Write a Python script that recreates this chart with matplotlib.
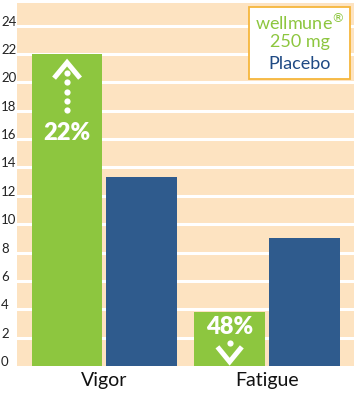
import matplotlib
matplotlib.use("Agg")
import matplotlib.pyplot as plt
import matplotlib.transforms as mtransforms
import numpy as np

categories = ["Vigor", "Fatigue"]
wellmune = [22.0, 3.8]
placebo = [13.3, 9.0]
yticks = [0, 2, 4, 6, 8, 10, 12, 14, 16, 18, 20, 22, 24]
pct_labels = ["22%", "48%"]

GREEN = "#8dc63f"
BLUE = "#2f5b8d"
PEACH = "#fde3c1"
ORANGE = "#f6b63c"

plt.rcParams['font.family'] = ['Lato', 'DejaVu Sans']

fig = plt.figure(figsize=(3.54, 4.0), dpi=100)
ax = fig.add_axes([0.048, 0.085, 0.952, 0.9075])
ax.set_facecolor(PEACH)

x = np.arange(len(categories))
off = 0.23
w = 0.435
ax.bar(x - off, wellmune, w, color=GREEN, zorder=3)
ax.bar(x + off, placebo, w, color=BLUE, zorder=3)

ax.set_xlim(-0.538, 1.535)
ax.set_ylim(0, 25.6)
ax.set_yticks(yticks)
ax.set_yticklabels([str(t) for t in yticks], fontsize=9.5, color="#222222")
ax.set_xticks(x)
ax.set_xticklabels(categories, fontsize=14, color="#111111")
ax.tick_params(axis="both", length=0)
ax.tick_params(axis="y", pad=11.5)
ax.tick_params(axis="x", pad=4)
for lbl in ax.get_yticklabels():
    lbl.set_transform(lbl.get_transform() + mtransforms.ScaledTranslation(0, 5/100, fig.dpi_scale_trans))
    lbl.set_horizontalalignment("left")
for t in yticks[1:]:
    ax.axhline(t, color="white", lw=2.2, zorder=1)
for s in ax.spines.values():
    s.set_visible(False)

# Vigor annotation (up arrow)
xv = x[0] - off
ax.text(xv, wellmune[0] - 5.55, pct_labels[0], color="white", fontsize=17, fontweight="heavy",
        ha="center", va="center", zorder=5)
dots_y = np.linspace(wellmune[0] - 3.95, wellmune[0] - 1.35, 5)
ax.scatter([xv] * len(dots_y), dots_y, s=20, color="white", zorder=5, linewidths=0)
cw = 0.08
ax.plot([xv - cw, xv, xv + cw], [wellmune[0] - 1.7, wellmune[0] - 0.6, wellmune[0] - 1.7],
        color="white", lw=3.6, zorder=5, solid_capstyle="butt", solid_joinstyle="miter")

# Fatigue annotation (down arrow)
xf = x[1] - off
ax.text(xf, wellmune[1] - 1.05, pct_labels[1], color="white", fontsize=17, fontweight="heavy",
        ha="center", va="center", zorder=5)
ax.scatter([xf], [wellmune[1] - 2.2], s=20, color="white", zorder=5, linewidths=0)
cw2 = 0.075
ax.plot([xf - cw2, xf, xf + cw2], [wellmune[1] - 2.45, wellmune[1] - 3.5, wellmune[1] - 2.45],
        color="white", lw=3.6, zorder=5, solid_capstyle="butt", solid_joinstyle="miter")

# Legend box
bx0, by0, bx1, by1 = 249/354, 1 - 79/400, 350/354, 1 - 7/400
rect = plt.Rectangle((bx0, by0), bx1 - bx0, by1 - by0, transform=fig.transFigure,
                     facecolor="white", edgecolor=ORANGE, lw=1.3, zorder=10)
fig.add_artist(rect)
cx = (bx0 + bx1) / 2
fig.text(cx, 1 - 23/400, "wellmune$^{\\circledR}$", color=GREEN, fontsize=13, ha="center", va="center", zorder=11)
fig.text(cx, 1 - 42/400, "250 mg", color=GREEN, fontsize=13, ha="center", va="center", zorder=11)
fig.text(cx, 1 - 64/400, "Placebo", color="#1f4a84", fontsize=13, ha="center", va="center", zorder=11)

fig.savefig("out.png", dpi=100)
